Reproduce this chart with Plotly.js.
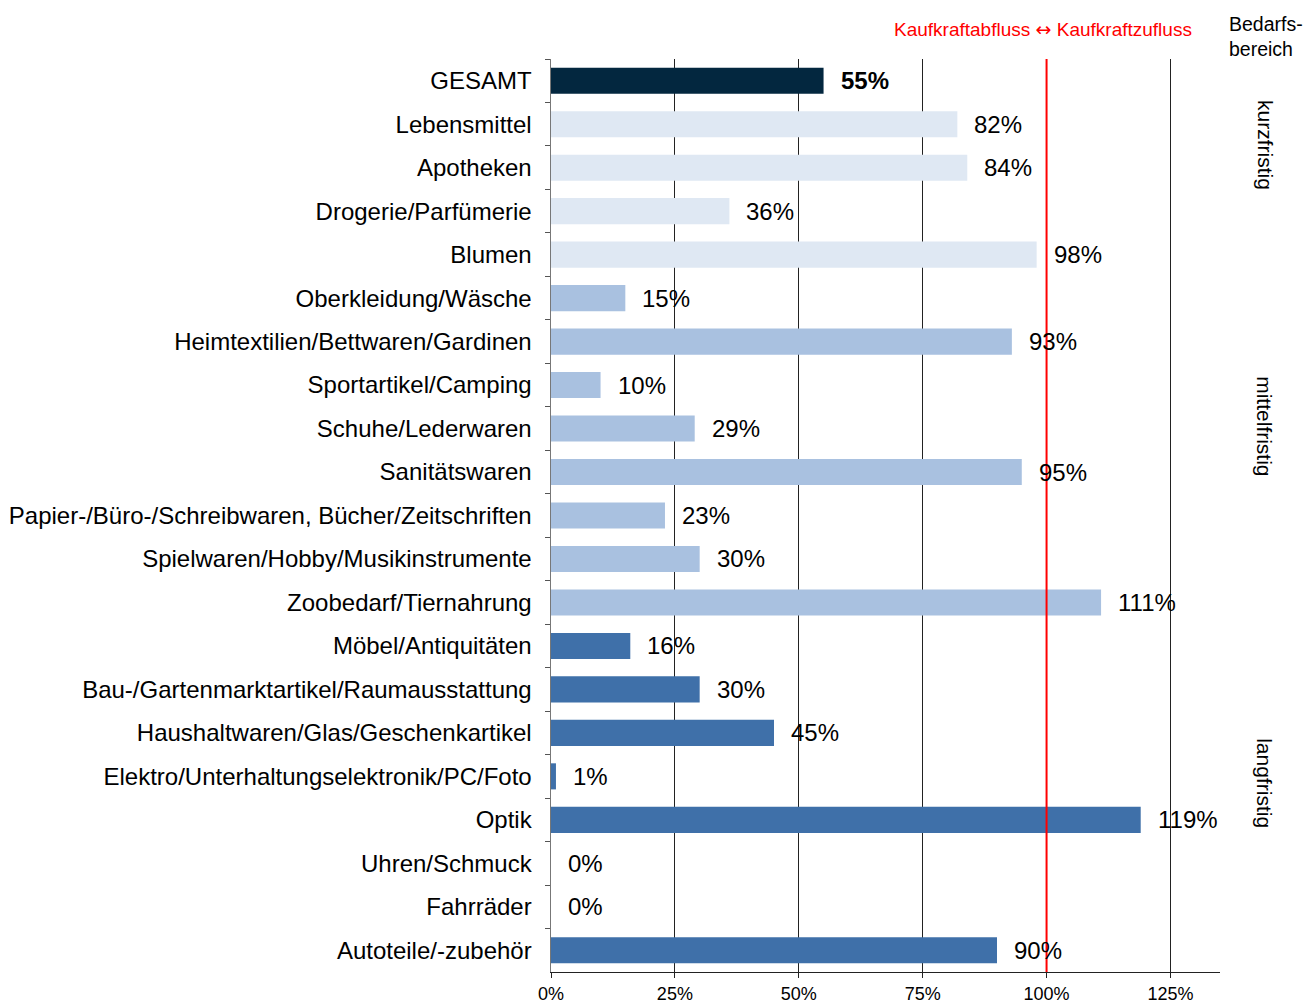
<!DOCTYPE html>
<html>
<head>
<meta charset="utf-8">
<script src="https://cdn.plot.ly/plotly-3.0.1.min.js"></script>
<style>html,body{margin:0;padding:0;background:#fff;}</style>
</head>
<body>
<div id="chart" style="width:1305px;height:1003px;"></div>
<script>
const categories = ["GESAMT","Lebensmittel","Apotheken","Drogerie/Parfümerie","Blumen",
  "Oberkleidung/Wäsche","Heimtextilien/Bettwaren/Gardinen","Sportartikel/Camping","Schuhe/Lederwaren",
  "Sanitätswaren","Papier-/Büro-/Schreibwaren, Bücher/Zeitschriften","Spielwaren/Hobby/Musikinstrumente",
  "Zoobedarf/Tiernahrung","Möbel/Antiquitäten","Bau-/Gartenmarktartikel/Raumausstattung",
  "Haushaltwaren/Glas/Geschenkartikel","Elektro/Unterhaltungselektronik/PC/Foto","Optik",
  "Uhren/Schmuck","Fahrräder","Autoteile/-zubehör"];
const values = [55,82,84,36,98,15,93,10,29,95,23,30,111,16,30,45,1,119,0,0,90];
const groups = ["gesamt","kurz","kurz","kurz","kurz","mittel","mittel","mittel","mittel","mittel","mittel","mittel","mittel",
  "lang","lang","lang","lang","lang","lang","lang","lang"];
const groupColors = {gesamt:"#03273F", kurz:"#DFE8F3", mittel:"#A9C1E0", lang:"#3F70A9"};
const groupLabels = ["kurzfristig","mittelfristig","langfristig"];
const xTicks = [0,25,50,75,100,125];
const referenceLine = 100;
const headerLeft = "Kaufkraftabfluss";
const headerRight = "Kaufkraftzufluss";
const sideHeader = "Bedarfs-<br>bereich";

const FONT = "Liberation Sans, Arial, sans-serif";

const trace = {
  type: "bar", orientation: "h",
  x: values, y: categories,
  width: 0.6,
  marker: {color: groups.map(g => groupColors[g]), line: {width: 0}},
  hoverinfo: "x+y", showlegend: false
};

const annotations = values.map((v, i) => ({
  x: v, y: categories[i], xref: "x", yref: "y",
  text: i === 0 ? "<b>" + v + "%</b>" : v + "%",
  showarrow: false, xanchor: "left", yanchor: "middle", xshift: 15,
  font: {family: FONT, size: 24, color: "#000"}
}));

const sidePos = [0.906, 0.598, 0.207];
groupLabels.forEach((t, i) => annotations.push({
  x: 1.067, y: sidePos[i], xref: "paper", yref: "paper", text: t, textangle: 90,
  showarrow: false, xanchor: "center", yanchor: "middle",
  font: {family: FONT, size: 21, color: "#000"}
}));
annotations.push({
  x: referenceLine, y: 1.033, xref: "x", yref: "paper",
  text: headerLeft + ' <span style="font-family:DejaVu Sans">\u2194</span> ' + headerRight,
  showarrow: false, xanchor: "center", yanchor: "middle", xshift: -4,
  font: {family: FONT, size: 19, color: "#FF0000"}
});
annotations.push({
  x: 1.0105, y: 1.025, xref: "paper", yref: "paper", text: sideHeader, align: "left",
  showarrow: false, xanchor: "left", yanchor: "middle",
  font: {family: FONT, size: 19.5, color: "#000"}
});

const layout = {
  width: 1305, height: 1003,
  margin: {l: 551, r: 85, t: 59, b: 31, pad: 0},
  paper_bgcolor: "#fff", plot_bgcolor: "#fff",
  font: {family: FONT, color: "#000"},
  bargap: 0.4,
  xaxis: {
    range: [0, 135], tickvals: xTicks, ticktext: xTicks.map(v => v + "%"),
    showgrid: true, gridcolor: "#222", gridwidth: 1, zeroline: false,
    showline: true, linecolor: "#222", linewidth: 1,
    ticks: "outside", ticklen: 5, tickcolor: "#222",
    tickfont: {family: FONT, size: 18, color: "#000"}, fixedrange: true
  },
  yaxis: {
    autorange: "reversed", type: "category",
    showgrid: false, zeroline: false,
    showline: true, linecolor: "#777", linewidth: 1.5,
    ticks: "outside", ticklen: 5, tickcolor: "#555", tickson: "boundaries",
    ticklabelstandoff: 13,
    tickfont: {family: FONT, size: 24, color: "#000"}, fixedrange: true
  },
  shapes: [{
    type: "line", xref: "x", yref: "paper", x0: referenceLine, x1: referenceLine, y0: 0, y1: 1,
    line: {color: "#FF0000", width: 2}, layer: "above"
  }],
  annotations: annotations
};

Plotly.newPlot("chart", [trace], layout, {displayModeBar: false, staticPlot: true});
</script>
</body>
</html>
